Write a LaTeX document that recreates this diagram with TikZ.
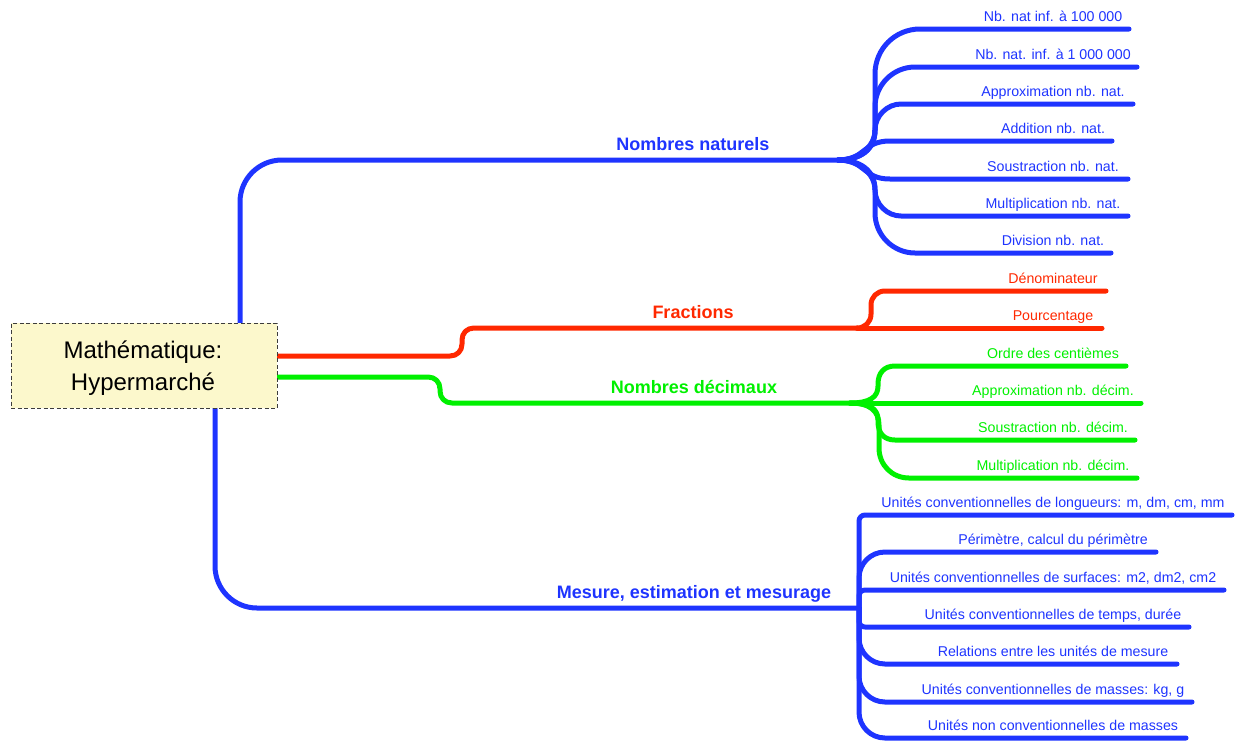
\documentclass[tikz,border=0pt]{standalone}
\usepackage{fontspec}
\setmainfont{Liberation Sans}
\usetikzlibrary{backgrounds}
\definecolor{mblue}{RGB}{30,52,255}
\definecolor{mred}{RGB}{255,40,0}
\definecolor{mgreen}{RGB}{0,240,0}
\definecolor{rootfill}{RGB}{252,248,204}
\definecolor{rootdraw}{RGB}{60,60,60}
\begin{document}
\begin{tikzpicture}[x=1pt,y=-1pt,
  branch/.style={line width=5pt,line cap=round,line join=round},
  leaf/.style={font=\fontsize{14.2}{16}\selectfont,anchor=base,inner sep=0pt},
  topic/.style={font=\fontsize{18}{20}\selectfont\bfseries,anchor=base,inner sep=0pt},
  rootbox/.style={draw=rootdraw,dash pattern=on 4pt off 2.5pt,line width=1pt,fill=rootfill,
    minimum width=266pt,minimum height=85pt,inner sep=0pt}]
\useasboundingbox (0,0) rectangle (1239,740);

% central node
\node[rootbox] (root) at (144,365.5) {};
\node[font=\fontsize{24}{28}\selectfont,anchor=base] (rootA) at (143,358) {Mathématique:};
\node[font=\fontsize{24}{28}\selectfont,anchor=base] (rootB) at (143,390) {Hypermarché};

\coordinate (rootTop) at ([xshift=96pt]root.north);
\coordinate (rootBot) at ([xshift=71pt]root.south);
\coordinate (rootR1) at ([yshift=9.5pt]root.east);
\coordinate (rootR2) at ([yshift=-11.5pt]root.east);

% branch points
\coordinate (natP) at (838,160);
\coordinate (fracP) at (857,328);
\coordinate (decP) at (850,403);
\coordinate (mesP) at (859,608);

% leaf ends
\coordinate (nat1) at (1129,29);
\coordinate (nat2) at (1137,67);
\coordinate (nat3) at (1133,104);
\coordinate (nat4) at (1112,141);
\coordinate (nat5) at (1128,179);
\coordinate (nat6) at (1128,216);
\coordinate (nat7) at (1111,253);
\coordinate (frac1) at (1106,291);
\coordinate (frac2) at (1102,328);
\coordinate (dec1) at (1126,366);
\coordinate (dec2) at (1141,403);
\coordinate (dec3) at (1135,440);
\coordinate (dec4) at (1137,478);
\coordinate (mes1) at (1232,515);
\coordinate (mes2) at (1156,552);
\coordinate (mes3) at (1224,590);
\coordinate (mes4) at (1189,627);
\coordinate (mes5) at (1177,664);
\coordinate (mes6) at (1192,702);
\coordinate (mes7) at (1186,738);

% labels
\node[topic,mblue] (tnat) at (693,150) {Nombres naturels};
\node[topic,mred] (tfrac) at (693,318) {Fractions};
\node[topic,mgreen] (tdec) at (694,393) {Nombres décimaux};
\node[topic,mblue] (tmes) at (694,598) {Mesure, estimation et mesurage};

\node[leaf,mblue] (lnat1) at (1053,21) {Nb. nat inf. à 100 000};
\node[leaf,mblue] (lnat2) at (1053,59) {Nb. nat. inf. à 1 000 000};
\node[leaf,mblue] (lnat3) at (1053,96) {Approximation nb. nat.};
\node[leaf,mblue] (lnat4) at (1053,133) {Addition nb. nat.};
\node[leaf,mblue] (lnat5) at (1053,171) {Soustraction nb. nat.};
\node[leaf,mblue] (lnat6) at (1053,208) {Multiplication nb. nat.};
\node[leaf,mblue] (lnat7) at (1053,245) {Division nb. nat.};
\node[leaf,mred] (lfrac1) at (1053,283) {Dénominateur};
\node[leaf,mred] (lfrac2) at (1053,320) {Pourcentage};
\node[leaf,mgreen] (ldec1) at (1053,358) {Ordre des centièmes};
\node[leaf,mgreen] (ldec2) at (1053,395) {Approximation nb. décim.};
\node[leaf,mgreen] (ldec3) at (1053,432) {Soustraction nb. décim.};
\node[leaf,mgreen] (ldec4) at (1053,470) {Multiplication nb. décim.};
\node[leaf,mblue] (lmes1) at (1053,507) {Unités conventionnelles de longueurs: m, dm, cm, mm};
\node[leaf,mblue] (lmes2) at (1053,544) {Périmètre, calcul du périmètre};
\node[leaf,mblue] (lmes3) at (1053,582) {Unités conventionnelles de surfaces: m2, dm2, cm2};
\node[leaf,mblue] (lmes4) at (1053,619) {Unités conventionnelles de temps, durée};
\node[leaf,mblue] (lmes5) at (1053,656) {Relations entre les unités de mesure};
\node[leaf,mblue] (lmes6) at (1053,694) {Unités conventionnelles de masses: kg, g};
\node[leaf,mblue] (lmes7) at (1053,730) {Unités non conventionnelles de masses};

\begin{pgfonlayer}{background}
% Nombres naturels
\draw[branch,mblue,rounded corners=42pt] (rootTop) |- (natP);
\draw[branch,mblue] (natP) .. controls (860,160) and (875,150) .. (875,130) -- (875,74)
  .. controls (875,49) and (895,29) .. (920,29) -- (nat1);
\draw[branch,mblue] (natP) .. controls (860,160) and (875,150) .. (875,130) -- (875,107)
  .. controls (875,85) and (893,67) .. (915,67) -- (nat2);
\draw[branch,mblue] (natP) .. controls (858,160) and (875,147) .. (875,130)
  .. controls (875,116) and (887,104) .. (901,104) -- (nat3);
\draw[branch,mblue] (natP) .. controls (866,160) and (862,141) .. (890,141) -- (nat4);
\draw[branch,mblue] (natP) .. controls (866,160) and (862,179) .. (890,179) -- (nat5);
\draw[branch,mblue] (natP) .. controls (858,160) and (875,173) .. (875,190)
  .. controls (875,204) and (887,216) .. (901,216) -- (nat6);
\draw[branch,mblue] (natP) .. controls (860,160) and (875,170) .. (875,190) -- (875,213)
  .. controls (875,235) and (893,253) .. (915,253) -- (nat7);

% Fractions
\draw[branch,mred] (rootR1) -- (450,356) .. controls (457,356) and (462,351) .. (462,344)
  -- (462,340) .. controls (462,333) and (467,328) .. (474,328) -- (fracP);
\draw[branch,mred] (fracP) .. controls (865,328) and (871,322) .. (871,314) -- (871,305)
  .. controls (871,297) and (877,291) .. (885,291) -- (frac1);
\draw[branch,mred] (fracP) -- (frac2);

% Nombres decimaux
\draw[branch,mgreen] (rootR2) -- (428,377) .. controls (435,377) and (440,382) .. (440,389)
  -- (440,391) .. controls (440,398) and (445,403) .. (452,403) -- (decP);
\draw[branch,mgreen] (decP) .. controls (870,403) and (878,397) .. (878,386) -- (878,384)
  .. controls (878,373) and (884,366) .. (895,366) -- (dec1);
\draw[branch,mgreen] (decP) -- (dec2);
\draw[branch,mgreen] (decP) .. controls (870,403) and (878,409) .. (878,420) -- (878,422)
  .. controls (878,433) and (884,440) .. (895,440) -- (dec3);
\draw[branch,mgreen] (decP) .. controls (870,403) and (879,411) .. (879,425) -- (879,448)
  .. controls (879,465) and (892,478) .. (909,478) -- (dec4);

% Mesure
\draw[branch,mblue,rounded corners=42pt] (rootBot) |- (mesP);
\draw[branch,mblue,rounded corners=6pt] (mesP) |- (mes1);
\draw[branch,mblue,rounded corners=26pt] (mesP) |- (mes2);
\draw[branch,mblue,rounded corners=6pt] (mesP) |- (mes3);
\draw[branch,mblue,rounded corners=6pt] (mesP) |- (mes4);
\draw[branch,mblue,rounded corners=26pt] (mesP) |- (mes5);
\draw[branch,mblue,rounded corners=26pt] (mesP) |- (mes6);
\draw[branch,mblue,rounded corners=26pt] (mesP) |- (mes7);
\end{pgfonlayer}
\end{tikzpicture}
\end{document}
